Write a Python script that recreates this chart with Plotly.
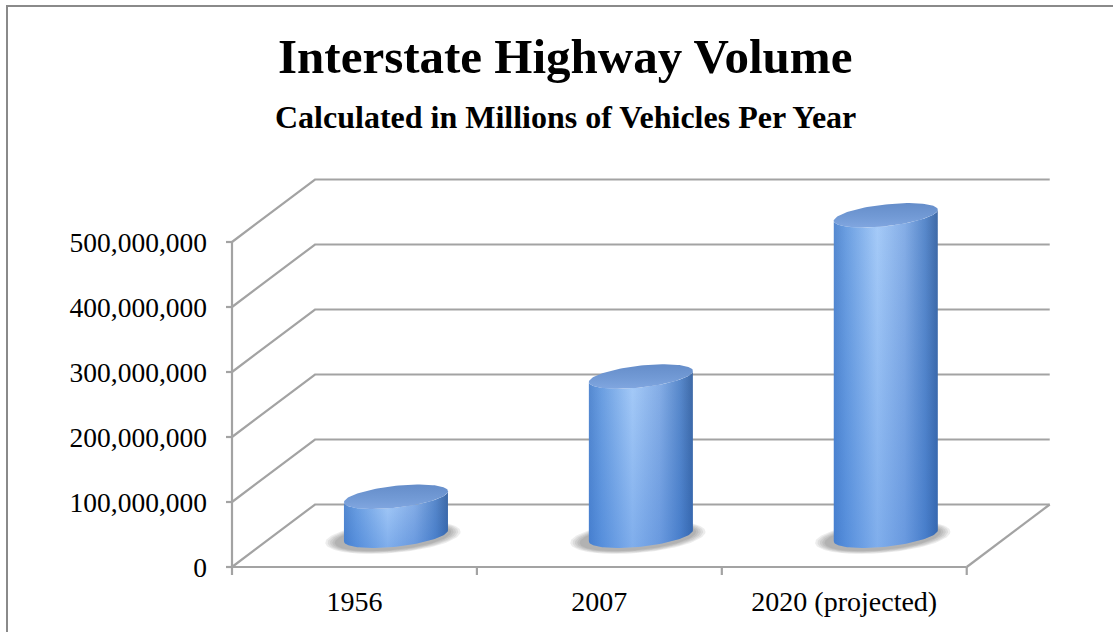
import numpy as np
import plotly.graph_objects as go

# ---------------- data ----------------
categories = ["1956", "2007", "2020 (projected)"]
volumes = [60_000_000, 245_000_000, 493_000_000]
y_tick_values = [0, 100_000_000, 200_000_000, 300_000_000, 400_000_000, 500_000_000]
y_tick_labels = ["0", "100,000,000", "200,000,000", "300,000,000", "400,000,000", "500,000,000"]
title_text = "Interstate Highway Volume"
subtitle_text = "Calculated in Millions of Vehicles Per Year"

# ---------------- layout / style constants ----------------
W, H = 1113, 632
X0_PX, XUNIT_PX = 232, 244.91          # pixel of category edge -0.5, pixels per category
Y0_PX, YUNIT_PX = 567, 0.65e-6          # pixel of value 0, pixels per unit value
PL, PR, PT, PB = 226, 1052, 170, 577    # plot area in pixels
DEPTH_X = 83 / XUNIT_PX                 # 3D depth offset (category units)
DEPTH_Y = 62.5 / YUNIT_PX               # 3D depth offset (value units)
GRID = "#a3a3a3"
FONT = "Liberation Serif"

x_range = [-0.5 + (PL - X0_PX) / XUNIT_PX, -0.5 + (PR - X0_PX) / XUNIT_PX]
y_range = [(Y0_PX - PB) / YUNIT_PX, (Y0_PX - PT) / YUNIT_PX]

def px_x(n):  # pixel length -> category units
    return n / XUNIT_PX

def px_y(n):  # pixel length -> value units
    return n / YUNIT_PX

fig = go.Figure()

def line(xs, ys, color=GRID, width=2.2):
    fig.add_trace(go.Scatter(x=xs, y=ys, mode="lines", line=dict(color=color, width=width),
                             hoverinfo="skip", showlegend=False))

x_left = -0.5
x_right = len(categories) - 0.5
# gridlines (left wall slant + back wall)
for v in y_tick_values:
    line([x_left, x_left + DEPTH_X, x_right + DEPTH_X], [v, v + DEPTH_Y, v + DEPTH_Y])
# floor right edge
line([x_right, x_right + DEPTH_X], [0, DEPTH_Y])
# axis lines
line([x_left, x_left], [0, y_tick_values[-1]])
line([x_left, x_right], [0, 0])
# y ticks
for v in y_tick_values:
    line([x_left - px_x(7), x_left], [v, v])
# x ticks at category boundaries
for k in range(len(categories) + 1):
    xb = x_left + k
    line([xb, xb], [0, -px_y(8)])

# ---------------- cylinders ----------------
a = px_x(52)
b = px_y(10.9)
sh = px_y(5.5)
t = np.linspace(0, 2 * np.pi, 121)

def ell(cx, cy, aa, bb, ss, tt):
    return cx + aa * np.cos(tt), cy + bb * np.sin(tt) + ss * np.cos(tt)

side_scale = [[0.0, "#5589d0"], [0.12, "#6c9fe1"], [0.42, "#a6cbf8"],
              [0.68, "#86aee6"], [0.88, "#5888ca"], [1.0, "#3e69a6"]]
for i, v in enumerate(volumes):
    cx = i + DEPTH_X / 2
    base = DEPTH_Y / 2
    top = v + DEPTH_Y / 2
    # soft shadow
    for k, s in enumerate([1.0, 0.85, 0.7, 0.55, 0.4]):
        sx, sy = ell(cx - px_x(3), base - px_y(1.5), a * (1.0 + 0.30 * s), b * (1.0 + 0.45 * s), sh, t)
        fig.add_trace(go.Scatter(x=sx, y=sy, mode="lines", fill="toself", line=dict(width=0),
                                 fillcolor="rgba(60,60,60,0.09)", hoverinfo="skip", showlegend=False))
    tf = np.linspace(np.pi, 2 * np.pi, 61)
    bx, by = ell(cx, base, a, b, sh, tf)
    tx, ty = ell(cx, top, a, b, sh, tf[::-1])
    sxs = np.concatenate([bx, tx, bx[:1]])
    sys_ = np.concatenate([by, ty, by[:1]])
    fig.add_trace(go.Scatter(x=sxs, y=sys_, mode="lines", fill="toself", line=dict(width=0),
                             fillgradient=dict(type="horizontal", colorscale=side_scale,
                                               start=cx - a, stop=cx + a),
                             hoverinfo="skip", showlegend=False))
    fig.add_trace(go.Scatter(x=sxs, y=sys_, mode="lines", fill="toself", line=dict(width=0),
                             fillgradient=dict(type="vertical",
                                               colorscale=[[0, "rgba(30,100,205,0.28)"],
                                                           [1, "rgba(30,100,205,0.0)"]],
                                               start=base - b, stop=top),
                             hoverinfo="skip", showlegend=False))
    cxs, cys = ell(cx, top, a, b, sh, t)
    fig.add_trace(go.Scatter(x=cxs, y=cys, mode="lines", fill="toself", line=dict(width=0),
                             fillgradient=dict(type="vertical",
                                               colorscale=[[0, "#86abe4"], [0.45, "#729ad5"], [1, "#6189c6"]],
                                               start=top - b - sh, stop=top + b + sh),
                             hoverinfo="skip", showlegend=False))

# ---------------- layout ----------------
def paper_x(p):
    return (p - PL) / (PR - PL)

def paper_y(p):
    return (PB - p) / (PB - PT)

fig.update_layout(
    width=W, height=H, autosize=False,
    margin=dict(l=PL, r=W - PR, t=PT, b=H - PB, pad=0),
    paper_bgcolor="white", plot_bgcolor="rgba(0,0,0,0)",
    showlegend=False,
    font=dict(family=FONT, color="black"),
    xaxis=dict(range=x_range, tickmode="array", tickvals=list(range(len(categories))),
               ticktext=categories, ticks="", showgrid=False, zeroline=False, showline=False,
               tickfont=dict(size=28, family=FONT, color="black"), ticklabelstandoff=5,
               fixedrange=True),
    yaxis=dict(range=y_range, tickmode="array", tickvals=y_tick_values, ticktext=y_tick_labels,
               ticks="", showgrid=False, zeroline=False, showline=False,
               tickfont=dict(size=27.5, family=FONT, color="black"), ticklabelstandoff=18,
               fixedrange=True),
    annotations=[
        dict(text=title_text, xref="paper", yref="paper", x=paper_x(565), y=paper_y(56.7),
             xanchor="center", yanchor="middle", showarrow=False,
             font=dict(size=49, family=FONT, color="black", weight="bold")),
        dict(text=subtitle_text, xref="paper", yref="paper", x=paper_x(565), y=paper_y(116.7),
             xanchor="center", yanchor="middle", showarrow=False,
             font=dict(size=32, family=FONT, color="black", weight="bold")),
    ],
    shapes=[dict(type="rect", xref="paper", yref="paper", x0=paper_x(7), x1=paper_x(1130),
                 y0=paper_y(6), y1=paper_y(650), line=dict(color="#8a8a8a", width=2),
                 fillcolor="rgba(0,0,0,0)", layer="below")],
)

fig.write_html("out.html", config={"displayModeBar": False},
               post_script="document.body.style.margin='0';document.body.style.overflow='hidden';")
